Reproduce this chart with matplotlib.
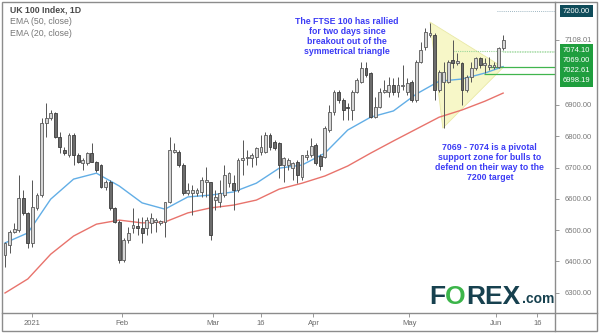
import matplotlib
matplotlib.use('agg')
import matplotlib.pyplot as plt
from matplotlib import transforms
from matplotlib.lines import Line2D
from matplotlib.patches import Rectangle, Polygon

plt.rcParams['font.family'] = ['Liberation Sans', 'DejaVu Sans']

# daily candles, late Dec 2020 -> 2 Jun 2021
opens = [6420, 6452, 6494, 6500, 6603, 6555, 6459, 6571, 6612, 6842,
         6858, 6874, 6797, 6756, 6740, 6804, 6740, 6714, 6714, 6746,
         6718, 6708, 6638, 6654, 6571, 6526, 6404, 6468, 6507, 6513,
         6507, 6507, 6523, 6526, 6523, 6526, 6590, 6750, 6750, 6708,
         6619, 6619, 6619, 6622, 6654, 6654, 6596, 6590, 6612, 6650,
         6650, 6628, 6724, 6730, 6730, 6734, 6750, 6750, 6804, 6781,
         6778, 6708, 6708, 6698, 6718, 6670, 6734, 6740, 6772, 6737,
         6734, 6820, 6877, 6941, 6916, 6893, 6884, 6941, 6973, 7018,
         7002, 6861, 6893, 6941, 6941, 6964, 6941, 6960, 6941, 6973,
         6916, 7037, 7085, 7123, 7123, 6948, 6973, 6973, 7043, 7034,
         7034, 6948, 6989, 7018, 7050, 7027, 7021, 7021, 7021, 7082]
highs = [6462, 6500, 6523, 6676, 6628, 6558, 6660, 6619, 6858, 6906,
         6884, 6876, 6813, 6765, 6810, 6810, 6746, 6730, 6750, 6778,
         6720, 6710, 6660, 6660, 6573, 6532, 6475, 6510, 6571, 6539,
         6542, 6542, 6555, 6539, 6532, 6590, 6797, 6778, 6756, 6714,
         6650, 6644, 6634, 6670, 6702, 6654, 6628, 6660, 6708, 6686,
         6676, 6730, 6788, 6756, 6746, 6765, 6804, 6813, 6810, 6788,
         6781, 6734, 6730, 6718, 6724, 6740, 6756, 6794, 6778, 6743,
         6832, 6900, 6948, 6948, 6922, 6906, 6948, 6986, 7037, 7037,
         7005, 6925, 6954, 6980, 6989, 6986, 6989, 7027, 6986, 6980,
         7043, 7101, 7146, 7162, 7130, 7011, 7037, 7043, 7107, 7066,
         7037, 6996, 7037, 7053, 7053, 7050, 7053, 7037, 7085, 7123]
lows = [6382, 6427, 6491, 6495, 6548, 6443, 6446, 6564, 6606, 6797,
        6852, 6794, 6746, 6740, 6734, 6708, 6714, 6692, 6708, 6717,
        6686, 6634, 6628, 6564, 6524, 6395, 6398, 6459, 6491, 6484,
        6459, 6484, 6491, 6494, 6516, 6478, 6587, 6746, 6702, 6612,
        6612, 6548, 6609, 6606, 6606, 6468, 6564, 6574, 6606, 6638,
        6564, 6622, 6676, 6708, 6702, 6708, 6740, 6746, 6756, 6756,
        6666, 6654, 6692, 6660, 6650, 6660, 6724, 6734, 6708, 6692,
        6730, 6813, 6868, 6906, 6852, 6852, 6852, 6938, 6970, 6989,
        6858, 6858, 6890, 6938, 6925, 6932, 6925, 6948, 6932, 6909,
        6909, 7034, 7075, 7117, 6916, 6941, 6826, 6970, 7018, 7027,
        6900, 6941, 6973, 7011, 7018, 7002, 7011, 7015, 7018, 7075]
closes = [6459, 6494, 6504, 6603, 6555, 6459, 6574, 6612, 6842, 6858,
          6874, 6797, 6765, 6746, 6804, 6740, 6718, 6724, 6746, 6718,
          6692, 6638, 6654, 6571, 6526, 6404, 6468, 6491, 6516, 6507,
          6491, 6532, 6539, 6532, 6529, 6590, 6756, 6756, 6708, 6619,
          6628, 6628, 6628, 6660, 6660, 6484, 6606, 6619, 6676, 6682,
          6628, 6724, 6730, 6734, 6740, 6762, 6765, 6804, 6765, 6762,
          6708, 6730, 6724, 6714, 6676, 6740, 6740, 6769, 6714, 6705,
          6826, 6877, 6941, 6916, 6884, 6890, 6941, 6980, 7018, 6996,
          6861, 6893, 6941, 6948, 6964, 6941, 6964, 6964, 6970, 6916,
          7037, 7075, 7133, 7130, 6948, 7005, 7005, 7037, 7034, 7040,
          6948, 6989, 7018, 7050, 7027, 7034, 7027, 7027, 7082, 7108.01]

# EMA values
ema_bars = [0, 5, 10, 15, 20, 25, 30, 35, 40, 45, 50, 55, 60, 65, 70, 75,
            80, 85, 90, 95, 100, 105, 109]
ema20 = [6459, 6491, 6599, 6663, 6682, 6641, 6587, 6567, 6606, 6612, 6622,
         6650, 6698, 6708, 6746, 6820, 6861, 6881, 6935, 6976, 6983, 7002,
         7022.61]
ema50 = [6299, 6344, 6423, 6481, 6519, 6532, 6523, 6526, 6555, 6571, 6580,
         6596, 6631, 6650, 6673, 6705, 6746, 6785, 6823, 6861, 6884, 6912,
         6938]

tick_labels = ['2021', 'Feb', 'Mar', '16', 'Apr', 'May', 'Jun', '16']
tick_bars = [6, 25.5, 45.5, 56, 67.5, 88.5, 107.5, 116.5]
price_ticks = [6300, 6400, 6500, 6600, 6700, 6800, 6900]

target = 7200.00
zone = [7069.00, 7074.10]
levels = [7022.61, 6998.19]
triangle_bars = [93, 95.8, 109]
triangle_prices = [7165, 6826, 7020]

W, H = 600, 333
fig = plt.figure(figsize=(W / 100, H / 100), dpi=100)
ax = fig.add_axes([3 / W, 1 - 313 / H, 552 / W, 310 / H])
ax.set_xlim(-0.44, 120.35)
ax.set_ylim(6235, 7226)
for s in ax.spines.values():
    s.set_visible(False)

# symmetrical triangle
ax.add_patch(Polygon(list(zip(triangle_bars, triangle_prices)), closed=True,
                     facecolor='#f7f7c8', edgecolor='#e9e9a6', lw=0.6, zorder=1))

# EMAs
ax.plot(ema_bars, ema50, color='#e8736c', lw=1.0, zorder=2)
ax.plot(ema_bars, ema20, color='#62aee6', lw=1.0, zorder=2)

# candles
idx = list(range(len(closes)))
up = [c >= o for o, c in zip(opens, closes)]
bottoms = [min(o, c) for o, c in zip(opens, closes)]
heights = [max(abs(c - o), 3) for o, c in zip(opens, closes)]
ax.vlines(idx, lows, highs, color='#555555', lw=0.7, zorder=3)
ax.bar(idx, heights, bottom=bottoms, width=0.62,
       color=['#d6d6d6' if u else '#6c6c6c' for u in up],
       edgecolor=['#5a5a5a' if u else '#3c3c3c' for u in up],
       linewidth=0.6, zorder=4)

xr = ax.get_xlim()[1]
# target and support lines
ax.hlines(target, 107.7, xr, colors='#7f9fae', lw=0.6, linestyles=(0, (1, 1.5)), zorder=2)
ax.hlines(sum(zone) / 2, 98, 109, colors='#9ad69a', lw=0.8, linestyles=(0, (1, 1)), zorder=2)
ax.fill_between([109, xr], zone[0], zone[1], facecolor='none', edgecolor='#8fd68f',
                hatch='......', linewidth=0, zorder=2)
ax.hlines(zone, 109, xr, colors='#9ad69a', lw=0.6, linestyles=(0, (1, 1)), zorder=2)
ax.hlines(levels[0], 106.2, xr, colors='#40b54e', lw=0.9, zorder=2)
ax.hlines(levels[1], 104.8, xr, colors='#40b54e', lw=0.9, zorder=2)

# axes ticks
ax.yaxis.tick_right()
ax.set_yticks(price_ticks + [closes[-1]])
ax.set_yticklabels(['%.2f' % v for v in price_ticks + [closes[-1]]])
ax.tick_params(axis='y', direction='out', length=3, width=0.6, color='#888888',
               labelsize=5.5, labelcolor='#7a7a7a', pad=4)
ax.set_xticks(tick_bars)
ax.set_xticklabels(tick_labels)
ax.tick_params(axis='x', direction='out', length=3, width=0.6, color='#888888',
               labelsize=5.5, labelcolor='#6a6a6a', pad=2)

# price boxes on the right axis
box_tr = transforms.blended_transform_factory(ax.transAxes, ax.transData)
ax.text(1.014, target, '%.2f' % target, transform=box_tr, fontsize=5.5, color='white',
        va='center', ha='left',
        bbox=dict(boxstyle='square,pad=0.35', facecolor='#0f4c5a', edgecolor='none'))
stack = [zone[1], zone[0]] + levels
for k, v in enumerate(stack):
    tr = transforms.offset_copy(box_tr, fig=fig, y=-7.2 * k, units='points')
    ax.text(1.014, stack[0], '%.2f' % v, transform=tr, fontsize=5.5, color='white',
            va='center', ha='left',
            bbox=dict(boxstyle='square,pad=0.35', facecolor='#1f9e3e', edgecolor='none'))

# legend text
ax.text(0.0127, 0.977, 'UK 100 Index, 1D', transform=ax.transAxes, fontsize=6.3,
        fontweight='bold', color='#4a4a4a', va='center')
ax.text(0.0127, 0.939, 'EMA (50, close)', transform=ax.transAxes, fontsize=6.3,
        color='#777777', va='center')
ax.text(0.0127, 0.903, 'EMA (20, close)', transform=ax.transAxes, fontsize=6.3,
        color='#777777', va='center')

# commentary
blue = '#3b3bf5'
ax.text(0.623, 0.955, 'The FTSE 100 has rallied\nfor two days since\nbreakout out of the\nsymmetrical triangle',
        transform=ax.transAxes, ha='center', va='top', fontsize=6.3, fontweight='bold',
        color=blue, linespacing=1.15)
ax.text(0.882, 0.55, '7069 - 7074 is a pivotal\nsupport zone for bulls to\ndefend on their way to the\n7200 target',
        transform=ax.transAxes, ha='center', va='top', fontsize=6.3, fontweight='bold',
        color=blue, linespacing=1.15)

# FOREX.com logo
dark = '#17414f'
t1 = ax.text(0.772, 0.012, 'F', transform=ax.transAxes, fontsize=19, fontweight='bold',
             color=dark, va='bottom', ha='left')
t2 = ax.annotate('O', xy=(1, 0), xycoords=t1, fontsize=19, fontweight='bold',
                 color='#3cb54a', va='bottom', ha='left')
t3 = ax.annotate('REX', xy=(1, 0), xycoords=t2, fontsize=19, fontweight='bold',
                 color=dark, va='bottom', ha='left')
ax.annotate('.com', xy=(1, 0), xycoords=t3, xytext=(1, 2.2), textcoords='offset points',
            fontsize=10, fontweight='bold', color=dark, va='bottom', ha='left')

# frame and separators
edge = '#8c8c8c'
fig.add_artist(Rectangle((2 / W, 2 / H), 595 / W, 329 / H, transform=fig.transFigure,
                         fill=False, edgecolor=edge, lw=1.0))
fig.add_artist(Line2D([555 / W, 555 / W], [2 / H, 331 / H], transform=fig.transFigure,
                      color=edge, lw=1.0))
fig.add_artist(Line2D([2 / W, 597 / W], [1 - 313 / H, 1 - 313 / H], transform=fig.transFigure,
                      color=edge, lw=1.0))

fig.savefig('out.png', dpi=100)
plt.close(fig)
